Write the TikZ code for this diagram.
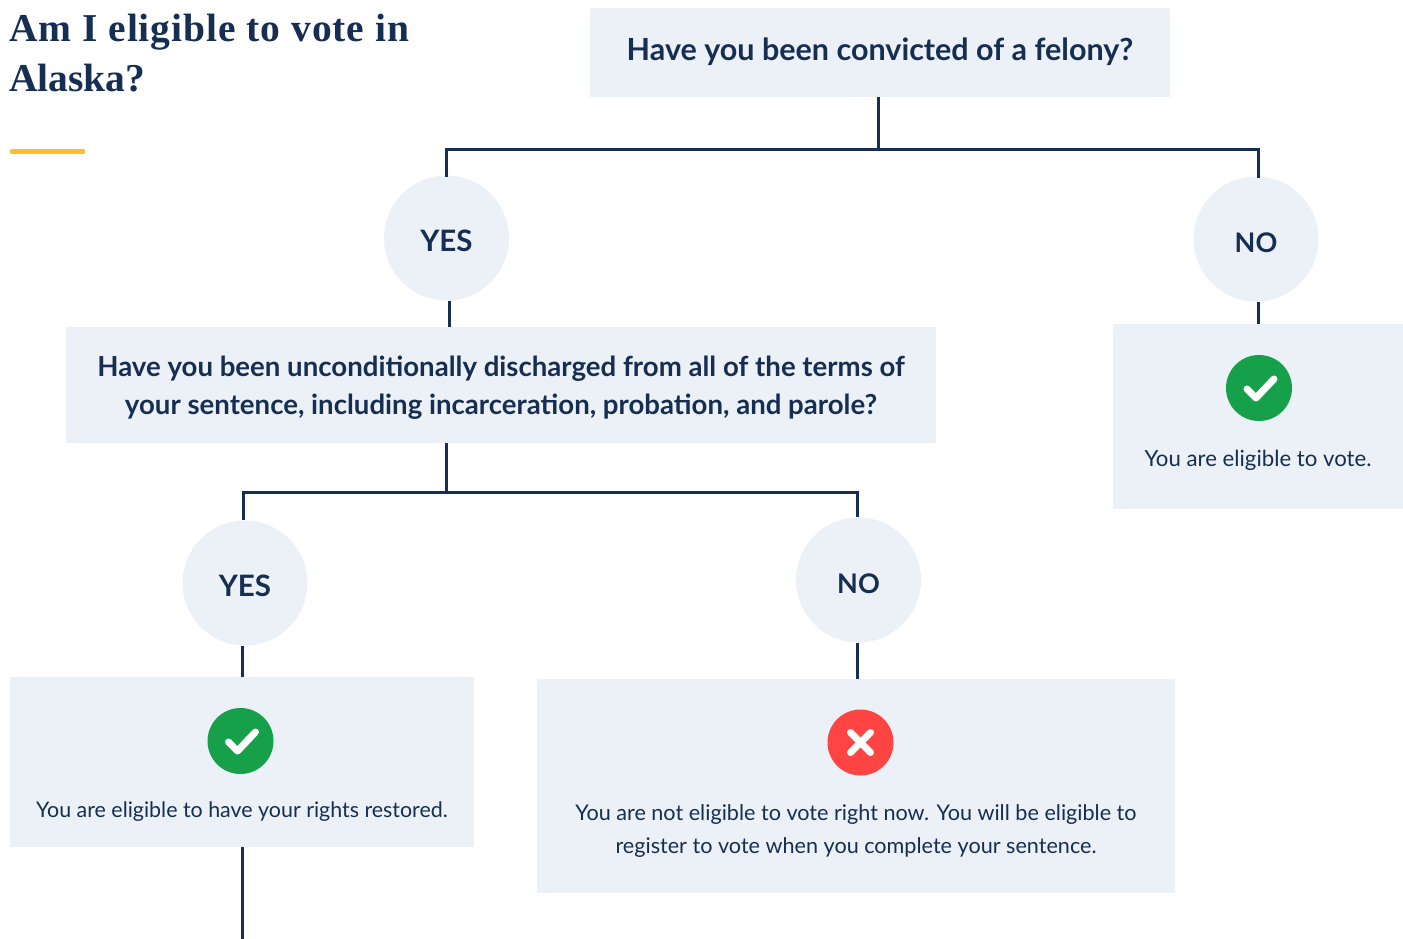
\documentclass[tikz,border=0pt]{standalone}
\usepackage{fontspec}
\setmainfont{Liberation Sans}
\newfontfamily\headfont{Liberation Serif}
\newfontfamily\headwide[LetterSpace=2.4]{Liberation Serif}
\newfontfamily\bodyfont{Lato}
\usepackage{tikz}
\definecolor{navy}{HTML}{162E51}
\definecolor{paleblue}{HTML}{ECF1F7}
\definecolor{okgreen}{HTML}{16A04A}
\definecolor{nored}{HTML}{FF4444}
\definecolor{baryellow}{HTML}{FDBE2D}
\tikzstyle{box} = [fill=paleblue, inner sep=0pt, anchor=north west]
\tikzstyle{answer} = [fill=paleblue, circle, inner sep=0pt, minimum size=125pt, text=navy, text height=26pt, text depth=0pt, font={\fontsize{29.5}{32}\selectfont\bodyfont\bfseries}]
\tikzstyle{noanswer} = [answer, font={\fontsize{27}{32}\selectfont\bodyfont\bfseries}]
\tikzstyle{ask} = [text=navy, align=center, font={\fontsize{30.5}{38}\selectfont\bodyfont\bfseries}]
\tikzstyle{result} = [text=navy, align=center, font={\fontsize{22.2}{33}\selectfont\bodyfont}]
\tikzstyle{icon} = [circle, inner sep=0pt, minimum size=66pt]
\tikzstyle{link} = [draw=navy, line width=3pt]
\tikzstyle{glyph} = [draw=white, line width=7pt, line cap=round, line join=round]

\begin{document}
\begin{tikzpicture}[x=1pt,y=-1pt]
    \useasboundingbox (0,0) rectangle (1403,939);
    % title
    \node[anchor=base west, inner sep=0pt, text=navy, font={\fontsize{39.5}{50}\selectfont\headfont\bfseries}, align=left](title) at (9,92){{\headwide Am I eligible to vote in}\\Alaska?};
    \coordinate(barleft) at (12,151.5);
    \coordinate(barright) at (83,151.5);
    \draw[baryellow, line width=5pt, line cap=round](barleft)--(barright);
    % boxes
    \node[box, minimum width=580pt, minimum height=89pt](q1) at (590,8){};
    \node[box, minimum width=870pt, minimum height=116pt](q2) at (66,327){};
    \node[box, minimum width=290pt, minimum height=185pt](r1) at (1113,324){};
    \node[box, minimum width=464pt, minimum height=170pt](r2) at (10,677){};
    \node[box, minimum width=638pt, minimum height=214pt](r3) at (537,679){};
    \node[ask](q1text) at (880,52){Have you been convicted of a felony?};
    \node[ask, font={\fontsize{27.6}{38}\selectfont\bodyfont\bfseries}](q2text) at (501,388){Have you been unconditionally discharged from all of the terms of\\your sentence, including incarceration, probation, and parole?};
    % answers
    \node[answer](yes1) at (446.5,238){YES};
    \node[noanswer](no1) at (1256,239){NO};
    \node[answer](yes2) at (245,583){YES};
    \node[noanswer](no2) at (858.5,580){NO};
    % results
    \node[icon, fill=okgreen](ok1) at (1259,388){};
    \draw[glyph](ok1.center)++(-12,1)--++(9,9)--++(18,-19);
    \node[result](r1text) at (1258,460){You are eligible to vote.};
    \node[icon, fill=okgreen](ok2) at (240.5,741){};
    \draw[glyph](ok2.center)++(-12,1)--++(9,9)--++(18,-19);
    \node[result, font={\fontsize{21.4}{33}\selectfont\bodyfont}](r2text) at (242,812){You are eligible to have your rights restored.};
    \node[icon, fill=nored](bad) at (860.5,742.5){};
    \draw[glyph](bad.center)++(-10,-10)--++(20,20);
    \draw[glyph](bad.center)++(-10,10)--++(20,-20);
    \node[result, font={\fontsize{21.6}{33}\selectfont\bodyfont}](r3text) at (856,831){You are not eligible to vote right now. You will be eligible to\\register to vote when you complete your sentence.};
    % joints
    \coordinate(bus1) at (878.5,150);
    \coordinate(bus2) at (446,492);
    \coordinate(down) at (242,939);
    \coordinate(left1) at (446,150);
    \coordinate(right1) at (1258,150);
    \coordinate(left2) at (243,492);
    \coordinate(right2) at (857,492);
    \coordinate(stem1) at (449,0);
    \draw[link](q1.south -| bus1)--(bus1);
    \draw[link,line cap=rect](yes1.north -| left1)--(left1)--(right1)--(no1.north -| right1);
    \draw[link](yes1.south -| stem1)--(q2.north -| stem1);
    \draw[link](no1.south -| right1)--(r1.north -| right1);
    \draw[link](q2.south -| bus2)--(bus2);
    \draw[link](yes2.north -| left2)--(left2)--(right2)--(no2.north -| right2);
    \draw[link](yes2.south -| down)--(r2.north -| down);
    \draw[link](no2.south -| right2)--(r3.north -| right2);
    \draw[link](r2.south -| down)--(down);
  \end{tikzpicture}
\end{document}
